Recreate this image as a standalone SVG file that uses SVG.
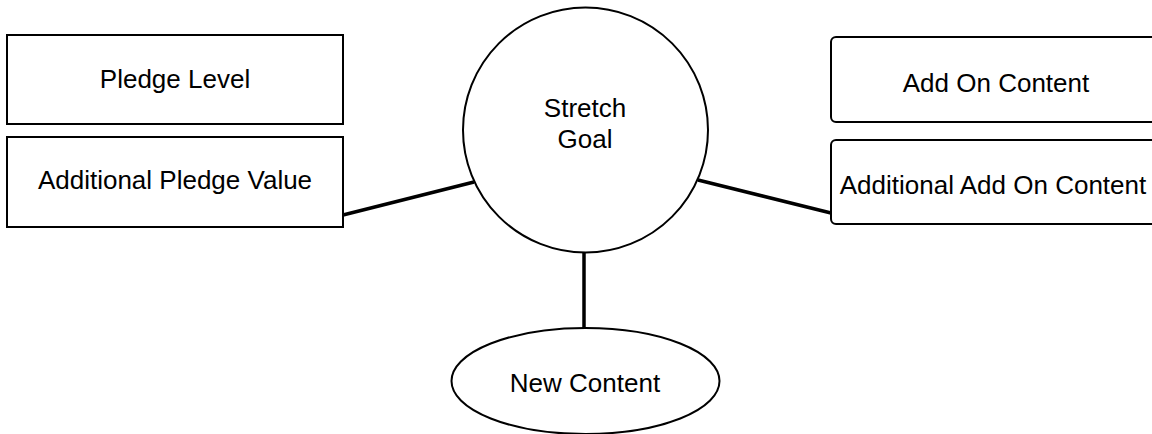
<svg xmlns="http://www.w3.org/2000/svg" width="1152" height="434" viewBox="0 0 1152 434">
<style>
.shape{fill:#fff;stroke:#000;stroke-width:2}
.lbl{font-family:"Liberation Sans",Arial,sans-serif;font-size:26px;fill:#000;text-anchor:middle}
.conn{stroke:#000;stroke-width:3.5;fill:none}
</style>
<rect width="1152" height="434" fill="#fff"/>
<g id="connectors">
<line class="conn" x1="343" y1="215" x2="474" y2="182"/>
<line class="conn" x1="698" y1="180" x2="831" y2="213"/>
<line class="conn" x1="584" y1="252" x2="584" y2="328"/>
</g>
<g id="pledge-level">
<rect class="shape" x="7" y="35" width="336" height="89"/>
<text class="lbl" x="175" y="88">Pledge Level</text>
</g>
<g id="additional-pledge-value">
<rect class="shape" x="7" y="137" width="336" height="90"/>
<text class="lbl" x="175" y="189">Additional Pledge Value</text>
</g>
<g id="stretch-goal">
<circle class="shape" cx="585.5" cy="130" r="122.5"/>
<text class="lbl" x="585" y="117">Stretch</text>
<text class="lbl" x="585" y="148">Goal</text>
</g>
<g id="new-content">
<ellipse class="shape" cx="585.5" cy="381" rx="134" ry="53"/>
<text class="lbl" x="585" y="392">New Content</text>
</g>
<g id="add-on-content">
<rect class="shape" x="831" y="37" width="332" height="85" rx="5"/>
<text class="lbl" x="996" y="92">Add On Content</text>
</g>
<g id="additional-add-on-content">
<rect class="shape" x="831" y="140" width="332" height="84" rx="5"/>
<text class="lbl" x="993" y="194">Additional Add On Content</text>
</g>
</svg>
